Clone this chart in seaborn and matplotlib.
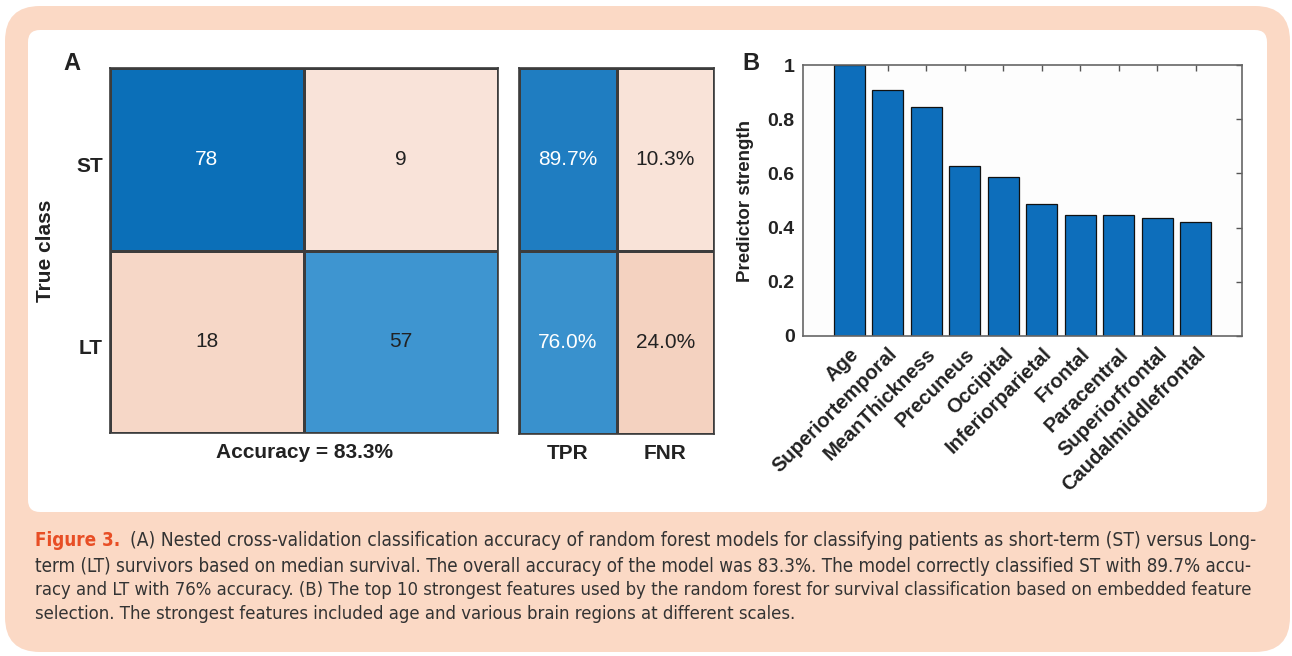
import numpy as np
import pandas as pd
import matplotlib
matplotlib.use("Agg")
import matplotlib.pyplot as plt
import seaborn as sns
from matplotlib.colors import LinearSegmentedColormap
from matplotlib.patches import FancyBboxPatch
from matplotlib.transforms import ScaledTranslation
from matplotlib import font_manager
from matplotlib.font_manager import FontProperties

# ---- data ----
classes = ["ST", "LT"]
conf_counts = [[78, 9], [18, 57]]
rate_cols = ["TPR", "FNR"]
rate_values = [[89.7, 10.3], [76.0, 24.0]]
accuracy = 83.3

features = ["Age", "Superiortemporal", "MeanThickness", "Precuneus", "Occipital",
            "Inferiorparietal", "Frontal", "Paracentral", "Superiorfrontal",
            "Caudalmiddlefrontal"]
strength = [1.0, 0.906, 0.845, 0.628, 0.586, 0.486, 0.448, 0.446, 0.437, 0.420]

caption_lines = [
    "(A) Nested cross-validation classification accuracy of random forest models for classifying patients as short-term (ST) versus Long-",
    "term (LT) survivors based on median survival. The overall accuracy of the model was 83.3%. The model correctly classified ST with 89.7% accu-",
    "racy and LT with 76% accuracy. (B) The top 10 strongest features used by the random forest for survival classification based on embedded feature",
    "selection. The strongest features included age and various brain regions at different scales.",
]

sns.set_style("white")
plt.rcParams["font.family"] = ["Liberation Sans", "DejaVu Sans"]

# look for a narrow face for the caption, else fall back to Liberation Sans
cond = [f for f in font_manager.fontManager.ttflist
        if ("Narrow" in f.name or "Condensed" in f.name or f.stretch in ("condensed", "semi-condensed"))
        and f.style == "normal"]
cond_reg = [f for f in cond if f.weight in (400, "normal", "regular")]
cond_bold = [f for f in cond if f.weight in (700, "bold")]
if cond_reg:
    cap_prop = FontProperties(fname=cond_reg[0].fname)
    cap_bold = FontProperties(fname=cond_bold[0].fname) if cond_bold else FontProperties(fname=cond_reg[0].fname, weight="bold")
else:
    cap_prop = FontProperties(family="Liberation Sans")
    cap_bold = FontProperties(family="Liberation Sans", weight="bold")

W, H = 1292, 656
fig = plt.figure(figsize=(W / 100, H / 100), dpi=100)
fig.patch.set_facecolor("white")

peach = "#FBD9C5"
outer = FancyBboxPatch((0.05, 0.04), 12.85, 6.46, boxstyle="round,pad=0,rounding_size=0.35",
                       transform=fig.dpi_scale_trans, facecolor=peach, edgecolor="none", zorder=-10)
inner = FancyBboxPatch((0.28, 1.44), 12.39, 4.82, boxstyle="round,pad=0,rounding_size=0.12",
                       transform=fig.dpi_scale_trans, facecolor="white", edgecolor="none", zorder=-9)
fig.add_artist(outer)
fig.add_artist(inner)


def add_ax(left, right, top, bottom):
    return fig.add_axes([left / W, 1 - bottom / H, (right - left) / W, (bottom - top) / H])


blue_cmap = LinearSegmentedColormap.from_list(
    "blu", [(0, "#FFFFFF"), (0.73, "#3F95D0"), (1, "#0B6FB8")])
peach_cmap = LinearSegmentedColormap.from_list("pch", ["#FDF0EA", "#EDB89C"])
diag = np.eye(2, dtype=bool)
dark_txt = "#222222"
label_kw = dict(fontsize=15, fontweight="bold", color=dark_txt)
cell_kw = {"fontsize": 15}

# ---- panel A: confusion matrix ----
ax_cm = add_ax(110, 498, 68, 433)
cm_df = pd.DataFrame(conf_counts, index=classes, columns=classes)
sns.heatmap(cm_df, mask=~diag, cmap=blue_cmap, vmin=0, vmax=78, annot=True, fmt="d",
            cbar=False, linewidths=1, linecolor="#3c3c3c", ax=ax_cm, annot_kws=cell_kw)
sns.heatmap(cm_df, mask=diag, cmap=peach_cmap, vmin=0, vmax=40, annot=True, fmt="d",
            cbar=False, linewidths=1, linecolor="#3c3c3c", ax=ax_cm, annot_kws=cell_kw)
for t in ax_cm.texts:
    t.set_color("white" if t.get_text() == "78" else dark_txt)
ax_cm.set_xticks([])
ax_cm.set_yticklabels(classes, rotation=0, **label_kw)
ax_cm.tick_params(length=0, pad=5)
shift = ScaledTranslation(0, -0.07, fig.dpi_scale_trans)
for lbl in ax_cm.get_yticklabels():
    lbl.set_transform(lbl.get_transform() + shift)
ax_cm.set_xlabel(f"Accuracy = {accuracy}%", labelpad=7, **label_kw)
ax_cm.set_ylabel("True class", **label_kw)
ax_cm.yaxis.set_label_coords(-0.142, 0.5)

# ---- panel A: TPR / FNR ----
ax_rt = add_ax(519, 714, 68, 434)
rt_df = pd.DataFrame(rate_values, index=classes, columns=rate_cols)
first_col = np.zeros((2, 2), dtype=bool)
first_col[:, 0] = True
sns.heatmap(rt_df, mask=~first_col, cmap=blue_cmap, vmin=0, vmax=100, annot=True, fmt=".1f",
            cbar=False, linewidths=1, linecolor="#3c3c3c", ax=ax_rt, annot_kws=cell_kw)
sns.heatmap(rt_df, mask=first_col, cmap=peach_cmap, vmin=0, vmax=45, annot=True, fmt=".1f",
            cbar=False, linewidths=1, linecolor="#3c3c3c", ax=ax_rt, annot_kws=cell_kw)
for t in ax_rt.texts:
    v = float(t.get_text())
    t.set_text(f"{v:.1f}%")
    t.set_color("white" if v > 50 else dark_txt)
ax_rt.set_yticks([])
ax_rt.set_xticklabels(rate_cols, rotation=0, **label_kw)
ax_rt.tick_params(length=0, pad=7)
ax_rt.set_xlabel("")
ax_rt.set_ylabel("")

for a in (ax_cm, ax_rt):
    for s in a.spines.values():
        s.set_visible(True)
        s.set_color("#3c3c3c")
        s.set_linewidth(1.2)

# ---- panel B: predictor strength ----
ax_b = add_ax(803, 1242, 65, 336)
sns.barplot(x=features, y=strength, color="#0D6EBB", saturation=1, width=0.8,
            edgecolor="#111111", linewidth=0.9, ax=ax_b)
ax_b.set_facecolor("#FDFDFD")
ax_b.set_xlim(-1.2, len(features) - 1 + 1.2)
ax_b.set_ylim(0, 1)
ax_b.set_yticks([0, 0.2, 0.4, 0.6, 0.8, 1])
ax_b.set_yticklabels(["0", "0.2", "0.4", "0.6", "0.8", "1"], fontsize=14, fontweight="bold", color=dark_txt)
ax_b.set_xticks(range(len(features)))
ax_b.set_xticklabels(features, rotation=45, ha="right", rotation_mode="anchor",
                     fontsize=14.5, fontweight="bold", color=dark_txt)
ax_b.tick_params(direction="in", top=True, right=True, length=4, width=1,
                 color="#555555", pad=6)
ax_b.set_ylabel("Predictor strength", labelpad=10, fontsize=13.5, fontweight="bold", color=dark_txt)
for s in ax_b.spines.values():
    s.set_visible(True)
    s.set_color("#666666")
    s.set_linewidth(1.2)

# panel letters
fig.text(72 / W, 1 - 64 / H, "A", ha="center", va="center", fontsize=17, fontweight="bold", color=dark_txt)
fig.text(751 / W, 1 - 64 / H, "B", ha="center", va="center", fontsize=17, fontweight="bold", color=dark_txt)

# ---- caption ----
cap_y = [541, 566, 590, 614]
cap_x0 = [130, 35, 35, 35]
right_edge = 1262
renderer = fig.canvas.get_renderer()
fig.text(35 / W, 1 - cap_y[0] / H, "Figure 3.", fontproperties=cap_bold, fontsize=13.5,
         color="#E84E25", va="center")
last_size = 14
for i, (yy, x0, line) in enumerate(zip(cap_y, cap_x0, caption_lines)):
    t = fig.text(x0 / W, 1 - yy / H, line, fontproperties=cap_prop, fontsize=14,
                 color="#333333", va="center")
    if i < 3:
        w = t.get_window_extent(renderer).width
        last_size = 14 * (right_edge - x0) / w
    t.set_fontsize(last_size)

fig.savefig("out.png", dpi=100)
